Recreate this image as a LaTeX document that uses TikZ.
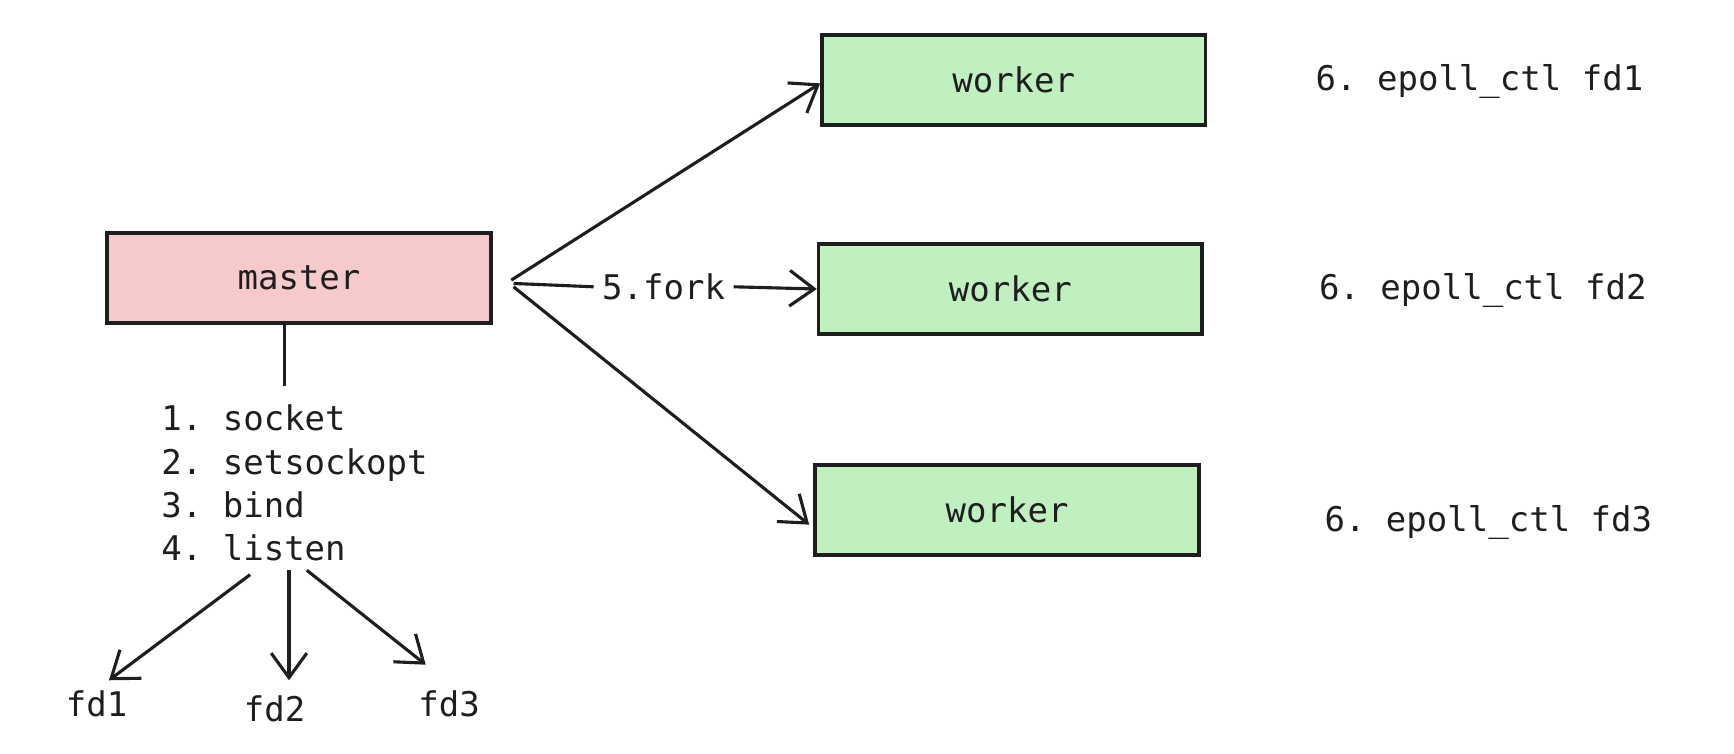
\documentclass[tikz,border=0pt]{standalone}
\usepackage{fontspec}
\setmonofont{DejaVu Sans Mono}
\usetikzlibrary{arrows.meta}
\definecolor{pinkf}{HTML}{F6CACA}
\definecolor{greenf}{HTML}{C0F0C0}
\definecolor{ink}{HTML}{1E1E1E}
\begin{document}
\begin{tikzpicture}[x=0.01cm,y=-0.01cm,
  txt/.style={font=\ttfamily\fontsize{8.7}{11.1}\selectfont, text=ink, inner sep=1pt},
  boxn/.style={draw=ink, line width=0.9pt, minimum width=3.45cm, minimum height=0.81cm, font=\ttfamily\fontsize{8.7}{11}\selectfont, text=ink},
  arr/.style={draw=ink, line width=0.8pt, -{Straight Barb[length=2.2mm,width=3.2mm]}}]
\useasboundingbox (0,0) rectangle (1560,678);
\node[boxn, fill=pinkf] (m) at (269,250) {master};
\node[boxn, fill=greenf] (w1) at (912,72) {worker};
\node[boxn, fill=greenf] (w2) at (909,260) {worker};
\node[boxn, fill=greenf] (w3) at (906,459) {worker};
\node[txt] (e1) at (1331,73) {6. epoll\_ctl fd1};
\node[txt] (e2) at (1334,261) {6. epoll\_ctl fd2};
\node[txt] (e3) at (1339,470) {6. epoll\_ctl fd3};
\node[txt, anchor=north west, align=left] (lst) at (141,360) {1. socket\\2. setsockopt\\3. bind\\4. listen};
\coordinate (lt) at (256,347);
\draw[draw=ink, line width=0.8pt] (m.south -| lt) -- (lt);
\node[txt] (f1) at (87,633) {fd1};
\node[txt] (f2) at (247,638) {fd2};
\node[txt] (f3) at (404,633) {fd3};
\coordinate (s1) at (225,517);
\coordinate (s2) at (260,513);
\coordinate (s3) at (276,513);
\coordinate (t1) at (98,612);
\coordinate (t2) at (260,612);
\coordinate (t3) at (383,598);
\draw[arr] (s1) -- (t1);
\draw[arr] (s2) -- (t2);
\draw[arr] (s3) -- (t3);
\coordinate (o1) at (460,252);
\coordinate (o2) at (462,255);
\coordinate (o3) at (462,258);
\draw[arr] (o1) -- (w1.west |- 0,75) ;
\draw[arr] (o3) -- (728,472);
\node[txt, fill=white, inner sep=2pt] (fk) at (597,258) {5.fork};
\draw[draw=ink, line width=0.8pt] (o2) -- (fk.west);
\draw[arr] (fk.east) -- (w2.west);
\end{tikzpicture}
\end{document}
